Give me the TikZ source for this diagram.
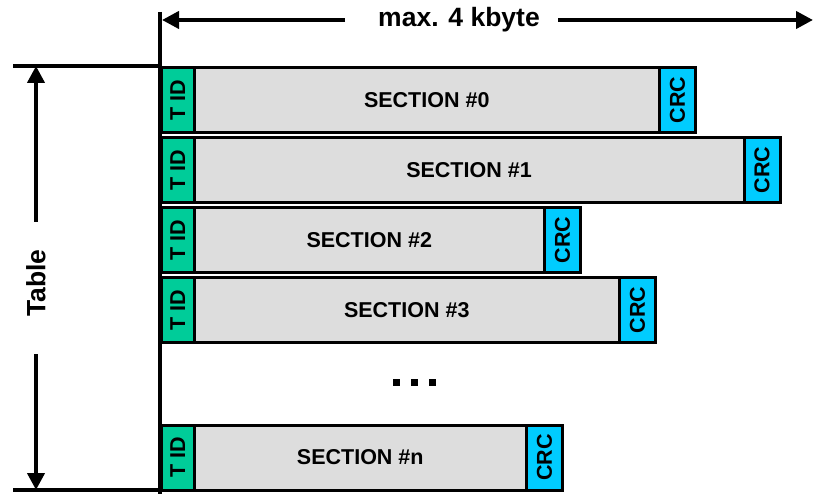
\documentclass[tikz,border=0pt]{standalone}
\usepackage{fontspec}
\setmainfont{Liberation Sans}
\usetikzlibrary{arrows.meta}
\definecolor{tidgreen}{HTML}{00CC99}
\definecolor{crccyan}{HTML}{00CCFF}
\definecolor{secgray}{HTML}{DDDDDD}
\tikzset{
  rowbox/.style={draw=black, line width=3pt, inner sep=0pt, outer sep=0pt,
    minimum height=65pt, font=\bfseries\fontsize{21.5}{24}\selectfont},
  tidbox/.style={rowbox, fill=tidgreen, minimum width=32.5pt},
  secbox/.style={rowbox, fill=secgray},
  crcbox/.style={rowbox, fill=crccyan, minimum width=36pt},
  dimline/.style={line width=4pt},
  dimarrow/.style={line width=4pt, -{Triangle[length=17pt,width=17pt]}},
  bigtext/.style={font=\bfseries\fontsize{26.5}{30}\selectfont, inner sep=0pt},
  dotsq/.style={fill=black, minimum size=7pt, inner sep=0pt}
}
\newcommand\secrow[4]{%
  \pgfmathsetmacro\gw{#3-194}%
  \pgfmathsetmacro\gc{(#3+194)/2}%
  \node[secbox, minimum width=\gw pt] (#1s) at (\gc,#2+32.5) {SECTION \##4};
  \node[tidbox] (#1t) at (177.75,#2+32.5) {\rotatebox{90}{T ID}};
  \node[crcbox] (#1c) at (#3+18,#2+32.5) {\rotatebox{90}{CRC}};
}
\begin{document}
\begin{tikzpicture}[x=1pt,y=-1pt]
\useasboundingbox (0,0) rectangle (814,494);
% guide lines
\coordinate (vtop) at (160,12);
\coordinate (vbot) at (160,494);
\coordinate (htl) at (13,66);
\coordinate (htr) at (162,66);
\coordinate (hbl) at (13,490);
\coordinate (hbr) at (162,490);
\draw[dimline] (vtop) -- (vbot);
\draw[dimline] (htl) -- (htr);
\draw[dimline] (hbl) -- (hbr);
% top dimension
\node[bigtext] (max) at (459,20) {max. 4 kbyte};
\coordinate (maxl) at (345,20);
\coordinate (maxr) at (558,20);
\coordinate (arrl) at (162,20);
\coordinate (arrr) at (813,20);
\draw[dimarrow] (maxl) -- (arrl);
\draw[dimarrow] (maxr) -- (arrr);
% left dimension
\node[bigtext, rotate=90] (tab) at (36,283) {Table};
\coordinate (tabu) at (36,222);
\coordinate (tabd) at (36,354);
\coordinate (tabtop) at (36,66);
\coordinate (tabbot) at (36,490);
\draw[dimarrow] (tabu) -- (tabtop);
\draw[dimarrow] (tabd) -- (tabbot);
% rows
\secrow{r0}{67.5}{659.5}{0}
\secrow{r1}{137.5}{744}{1}
\secrow{r2}{207.5}{544.5}{2}
\secrow{r3}{277.5}{619.5}{3}
\secrow{rn}{425}{526.5}{n}
% dots
\node[dotsq] (d1) at (396,382) {};
\node[dotsq] (d2) at (414,382) {};
\node[dotsq] (d3) at (432,382) {};
\end{tikzpicture}
\end{document}
